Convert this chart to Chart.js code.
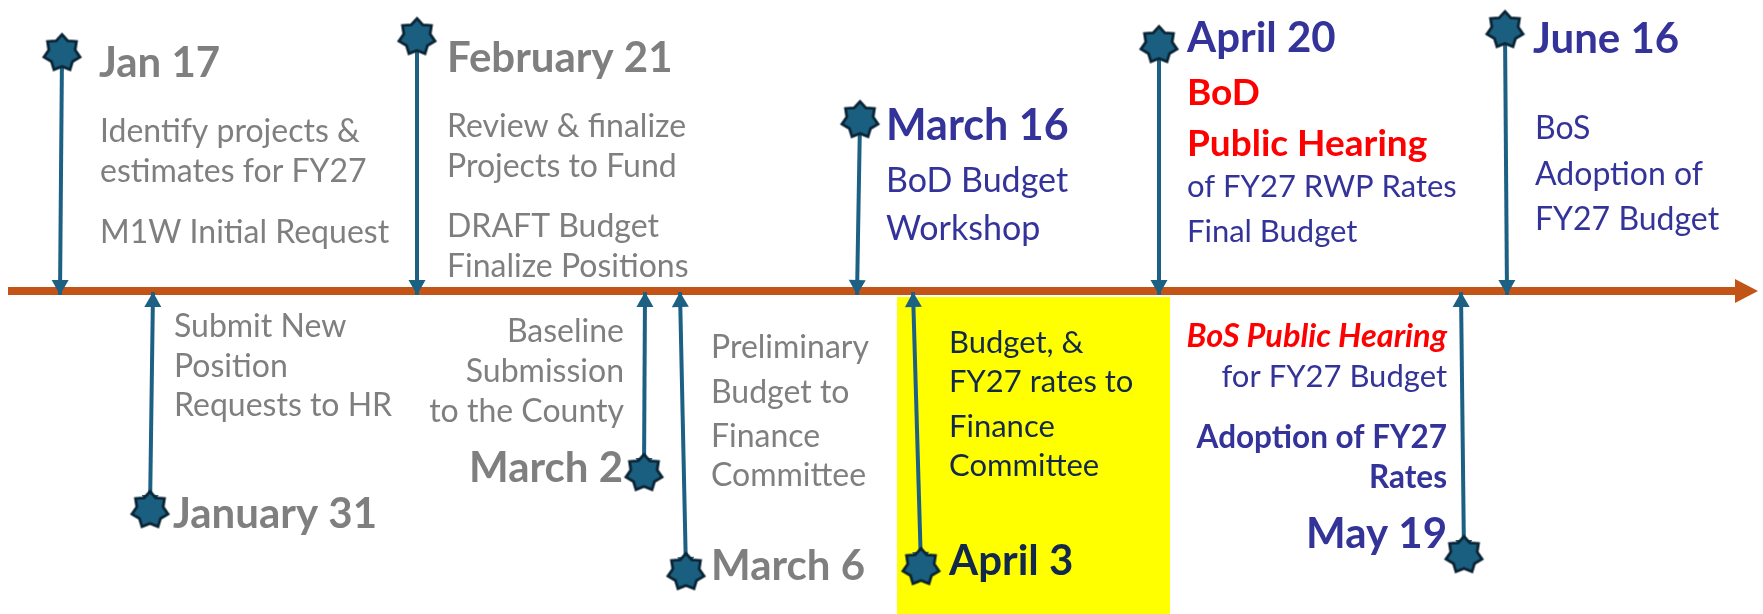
<!DOCTYPE html>
<html><head><meta charset="utf-8">
<script src="https://cdn.jsdelivr.net/npm/chart.js@4/dist/chart.umd.min.js"></script>
<style>html,body{margin:0;padding:0;background:#fff;overflow:hidden}#wrap{width:1763px;height:614px;position:relative}</style>
</head><body><div id="wrap"><canvas id="c"></canvas></div>
<script>
// ---------------- data ----------------
const eventDates = ['Jan 17','January 31','February 21','March 2','March 6','March 16','April 3','April 20','May 19','June 16'];
// where each stem meets the timeline (position along the timeline)
const axisPos    = [60, 153, 417, 645, 680, 857, 913, 1159, 1461, 1507];
// where each stem ends (star)
const starPos    = [62, 150, 417, 644, 686, 860, 921, 1159, 1464, 1505];
// stem height above (+) / below (-) the timeline
const stemHeight = [238, -219, 254, -182, -281, 171, -276, 246, -264, 261];
const eventNotes = [
  ['Identify projects &','estimates for FY27','M1W Initial Request'],
  ['Submit New','Position','Requests to HR'],
  ['Review & finalize','Projects to Fund','DRAFT Budget','Finalize Positions'],
  ['Baseline','Submission','to the County'],
  ['Preliminary','Budget to','Finance','Committee'],
  ['BoD Budget','Workshop'],
  ['Budget, &','FY27 rates to','Finance','Committee'],
  ['BoD','Public Hearing','of FY27 RWP Rates','Final Budget'],
  ['BoS Public Hearing','for FY27 Budget','Adoption of FY27','Rates'],
  ['BoS','Adoption of','FY27 Budget']
];
const timelineSpan = [8, 1735];

// ---------------- styles / layout ----------------
const AXIS_Y = 291;           // pixel row of the timeline
const FONT = 'Lato, "Open Sans", sans-serif';
const COLORS = {gray:'#7F7F7F', navy:'#333399', red:'#FF0000', ink:'#13294B'};
const ORANGE = '#C25418', STEM = '#1C6183', STAR_FILL = '#1A5F80', STAR_EDGE = '#0B2435';
const TITLE_SIZE = 42, NOTE_SIZE = 32;
const labelLayout = [
  {align:'left',  title:{x:99,  y:77,  c:'gray'}, notes:{x:100, y:[142,182,243], c:'gray'}},
  {align:'left',  title:{x:173, y:528, c:'gray'}, notes:{x:174, y:[337,377,416], c:'gray'}},
  {align:'left',  title:{x:447, y:72,  c:'gray'}, notes:{x:447, y:[137,177,237,277], c:'gray'}},
  {align:'right', title:{x:623, y:482, c:'gray'}, notes:{x:624, y:[342,382,422], c:'gray'}},
  {align:'left',  title:{x:711, y:580, c:'gray'}, notes:{x:711, y:[358,403,447,486], c:'gray'}},
  {align:'left',  title:{x:886, y:140, c:'navy', s:43}, notes:{x:886, y:[192,240], c:'navy', s:34}},
  {align:'left',  title:{x:949, y:575, c:'ink'},  notes:{x:949, y:[353,392,437,476], c:'ink', s:31}},
  {align:'left',  title:{x:1187,y:52,  c:'navy'}, notes:{x:1187,y:[105,156,197,242], c:'navy', s:31,
      styles:[{c:'red',w:'bold',s:37},{c:'red',w:'bold',s:37}]}},
  {align:'right', title:{x:1447,y:548, c:'navy'}, notes:{x:1447,y:[347,387,448,488], c:'navy', s:31,
      styles:[{c:'red',w:'bold',i:true,s:32.5},{},{w:'bold',s:31.5},{w:'bold',s:31.5}]}},
  {align:'left',  title:{x:1533,y:53,  c:'navy'}, notes:{x:1535,y:[139,185,230], c:'navy', s:32}}
];
const highlightBox = {x0:897, x1:1170, top:297, color:'#FFFF00'};

function font(size, weight, style){ return `${style||'normal'} ${weight||'normal'} ${size}px ${FONT}`; }

function makeStar(R, r, n, fill, stroke, lw){
  const s = Math.ceil(2*R + lw*2 + 4);
  const c = document.createElement('canvas'); c.width = s; c.height = s;
  const g = c.getContext('2d');
  g.translate(s/2, s/2);
  g.beginPath();
  for (let k=0;k<2*n;k++){ const a = -Math.PI/2 + k*Math.PI/n; const rr = k%2 ? r : R; g.lineTo(Math.cos(a)*rr, Math.sin(a)*rr); }
  g.closePath(); g.fillStyle = fill; g.fill();
  g.lineWidth = lw; g.strokeStyle = stroke; g.lineJoin = 'miter'; g.stroke();
  return c;
}
const starImg = makeStar(18.5, 13.5, 7, STAR_FILL, STAR_EDGE, 2.8);

// ---------------- datasets ----------------
const datasets = [];
datasets.push({
  label:'stars', order:0,
  data: starPos.map((x,i)=>({x, y: stemHeight[i]})),
  pointStyle: starImg, pointRadius: 18, showLine:false, clip:false
});
eventDates.forEach((d,i)=>{
  datasets.push({
    label:'stem '+d, order:1, showLine:true, clip:false,
    data:[{x:axisPos[i], y: stemHeight[i] > 0 ? -4 : -1}, {x:starPos[i], y:stemHeight[i]}],
    borderColor: STEM, borderWidth: 4, pointRadius: 0,
    arrow:{len:15, half:8.5, ends:[true,true], color:STEM, beyond:false}
  });
});
datasets.push({
  label:'timeline', order:2, showLine:true, clip:false,
  data: timelineSpan.map(x=>({x, y:0})),
  borderColor: ORANGE, borderWidth: 8, pointRadius: 0,
  arrow:{len:23, half:12, ends:[false,true], color:ORANGE, beyond:true}
});

// ---------------- plugins ----------------
const arrowPlugin = {
  id:'arrows',
  afterDatasetDraw(chart, args){
    const ds = chart.data.datasets[args.index];
    if (!ds.arrow) return;
    const pts = args.meta.data; const ctx = chart.ctx; const A = ds.arrow;
    const draw = (tipFrom, to) => {
      const dx = to.x - tipFrom.x, dy = to.y - tipFrom.y; const L = Math.hypot(dx,dy) || 1;
      const ux = dx/L, uy = dy/L;
      let tx = to.x, ty = to.y;
      if (A.beyond){ tx += ux*A.len; ty += uy*A.len; }
      const bx = tx - ux*A.len, by = ty - uy*A.len;
      ctx.beginPath();
      ctx.moveTo(tx, ty);
      ctx.lineTo(bx - uy*A.half, by + ux*A.half);
      ctx.lineTo(bx + uy*A.half, by - ux*A.half);
      ctx.closePath(); ctx.fillStyle = A.color; ctx.fill();
    };
    ctx.save();
    const p0 = pts[0], p1 = pts[pts.length-1];
    if (A.ends[0]) draw(p1, p0);
    if (A.ends[1]) draw(p0, p1);
    ctx.restore();
  }
};
const boxPlugin = {
  id:'box',
  beforeDatasetsDraw(chart){
    const {ctx, scales:{x:xs, y:ys}} = chart;
    const x0 = xs.getPixelForValue(highlightBox.x0), x1 = xs.getPixelForValue(highlightBox.x1);
    const y0 = ys.getPixelForValue(AXIS_Y - highlightBox.top), y1 = ys.getPixelForValue(ys.min);
    ctx.save(); ctx.fillStyle = highlightBox.color; ctx.fillRect(x0, y0, x1-x0, y1-y0); ctx.restore();
  }
};
const textPlugin = {
  id:'labels',
  afterDatasetsDraw(chart){
    const {ctx, scales:{x:xs, y:ys}} = chart;
    const X = v => xs.getPixelForValue(v), Y = py => ys.getPixelForValue(AXIS_Y - py);
    ctx.save(); ctx.textBaseline = 'alphabetic';
    labelLayout.forEach((L,i)=>{
      ctx.textAlign = L.align;
      ctx.font = font(L.title.s || TITLE_SIZE, 'bold');
      ctx.fillStyle = COLORS[L.title.c];
      ctx.fillText(eventDates[i], X(L.title.x), Y(L.title.y));
      eventNotes[i].forEach((t,k)=>{
        const st = (L.notes.styles && L.notes.styles[k]) || {};
        ctx.font = font(st.s || L.notes.s || NOTE_SIZE, st.w, st.i ? 'italic' : 'normal');
        ctx.fillStyle = COLORS[st.c || L.notes.c];
        ctx.fillText(t, X(L.notes.x), Y(L.notes.y[k]));
      });
    });
    ctx.restore();
  }
};

new Chart(document.getElementById('c'), {
  type:'scatter',
  data:{datasets},
  options:{
    responsive:true, maintainAspectRatio:false, animation:false, events:[],
    layout:{padding:0, autoPadding:false},
    plugins:{legend:{display:false}, tooltip:{enabled:false}},
    scales:{
      x:{type:'linear', min:0, max:1763, display:false},
      y:{type:'linear', min:AXIS_Y-614, max:AXIS_Y, display:false}
    }
  },
  plugins:[boxPlugin, arrowPlugin, textPlugin]
});
</script></body></html>
